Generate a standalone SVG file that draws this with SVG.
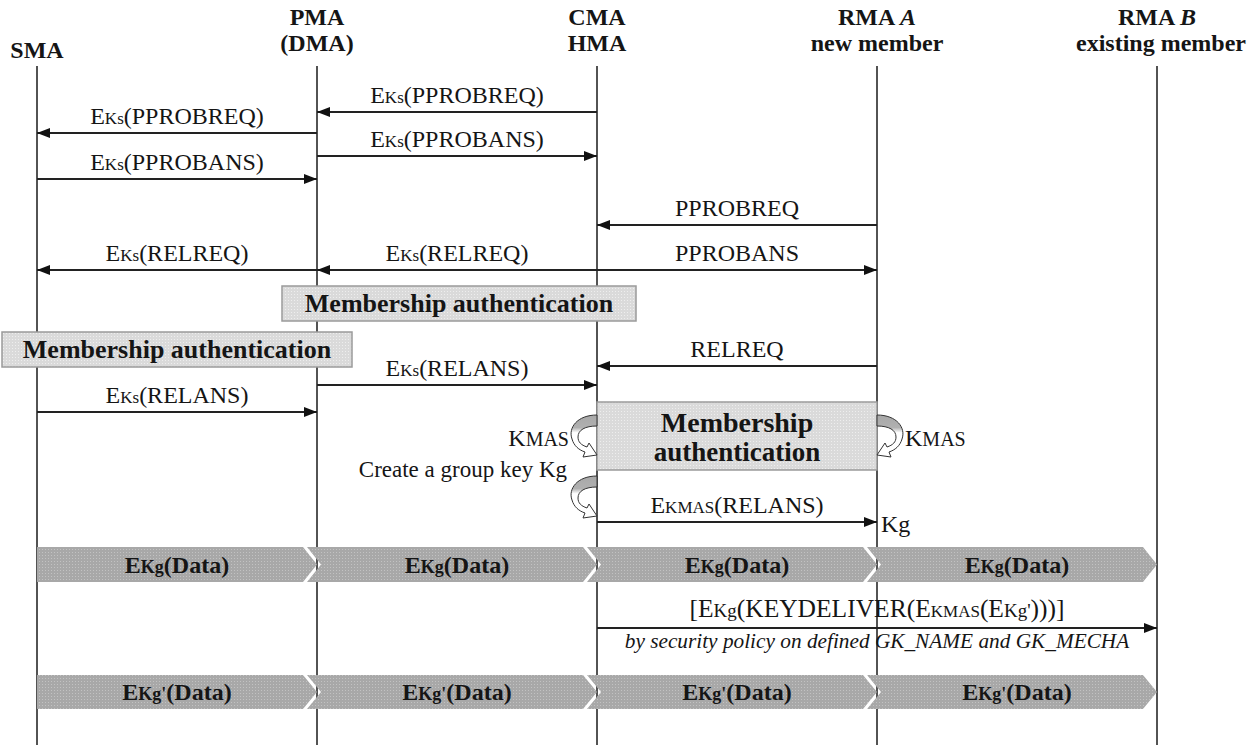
<svg xmlns="http://www.w3.org/2000/svg" width="1252" height="745" viewBox="0 0 1252 745">
<style>
text{font-family:"Liberation Serif","Times New Roman",serif;fill:#151515}
.hdr{font-size:24px;font-weight:bold;text-anchor:middle}
.msg{font-size:24px;text-anchor:middle}
.sub{font-size:17px}
.ma{font-size:26px;font-weight:bold;text-anchor:middle}
.dat{font-size:24px;font-weight:bold;text-anchor:middle}
.dsub{font-size:18px}
.life{stroke:#1a1a1a;stroke-width:1.5;fill:none}
.arr{stroke:#222;stroke-width:1.8;fill:none;marker-end:url(#ah)}
.box{fill:url(#pbox);stroke:#9a9a9a;stroke-width:1.5}
.bar{fill:url(#pbar);stroke:none}
.curl{fill:url(#gcurl);stroke:#333;stroke-width:1}
</style>
<defs>
<marker id="ah" viewBox="0 0 13 10" refX="13" refY="5" markerWidth="13" markerHeight="10" markerUnits="userSpaceOnUse" orient="auto"><path d="M0,0 L13,5 L0,10 Z" fill="#111"/></marker>
<pattern id="pbar" width="3" height="3" patternUnits="userSpaceOnUse"><rect width="3" height="3" fill="#a8a8a8"/><rect width="1" height="1" fill="#c2c2c2"/></pattern>
<pattern id="pbox" width="3" height="3" patternUnits="userSpaceOnUse"><rect width="3" height="3" fill="#dadada"/><rect width="1" height="1" fill="#eeeeee"/></pattern>
<linearGradient id="gcurl" x1="0" y1="0" x2="0" y2="1"><stop offset="0" stop-color="#a8a8a8"/><stop offset="0.3" stop-color="#b0b0b0"/><stop offset="0.42" stop-color="#ffffff"/><stop offset="1" stop-color="#ffffff"/></linearGradient>
<path id="curlp" class="curl" d="M0,0 C-20,0 -29,13 -25,24 C-23,31 -18,35 -12,37 L-14,42 L0,40 L-8,28 L-10,32 C-16,30 -19,27 -19,22 C-19,15 -12,11 0,11 Z"/>
</defs>

<g id="lifelines">
<line class="life" x1="37" y1="66" x2="37" y2="745"/>
<line class="life" x1="317" y1="66" x2="317" y2="745"/>
<line class="life" x1="597" y1="66" x2="597" y2="745"/>
<line class="life" x1="877" y1="66" x2="877" y2="745"/>
<line class="life" x1="1157" y1="66" x2="1157" y2="745"/>
</g>

<g id="headers">
<g id="sma"><text class="hdr" x="37" y="58">SMA</text></g>
<g id="pma"><text class="hdr" x="317" y="25">PMA</text><text class="hdr" x="317" y="51">(DMA)</text></g>
<g id="cma"><text class="hdr" x="597" y="25">CMA</text><text class="hdr" x="597" y="51">HMA</text></g>
<g id="rmaa"><text class="hdr" x="877" y="25">RMA <tspan font-style="italic">A</tspan></text><text class="hdr" x="877" y="51">new member</text></g>
<g id="rmab"><text class="hdr" x="1157" y="25">RMA <tspan font-style="italic">B</tspan></text><text class="hdr" x="1161" y="51">existing member</text></g>
</g>

<g id="connectors">
<line class="arr" x1="597" y1="112" x2="317" y2="112"/>
<line class="arr" x1="317" y1="133" x2="37" y2="133"/>
<line class="arr" x1="317" y1="156" x2="597" y2="156"/>
<line class="arr" x1="37" y1="179" x2="317" y2="179"/>
<line class="arr" x1="877" y1="225" x2="597" y2="225"/>
<line class="arr" x1="317" y1="270" x2="37" y2="270"/>
<line class="arr" x1="597" y1="270" x2="317" y2="270"/>
<line class="arr" x1="597" y1="270" x2="877" y2="270"/>
<line class="arr" x1="877" y1="366" x2="597" y2="366"/>
<line class="arr" x1="317" y1="385" x2="597" y2="385"/>
<line class="arr" x1="37" y1="412" x2="317" y2="412"/>
<line class="arr" x1="597" y1="522" x2="877" y2="522"/>
<line class="arr" x1="597" y1="628" x2="1157" y2="628"/>
</g>

<g id="labels">
<text class="msg" x="457" y="103">E<tspan class="sub">Ks</tspan>(PPROBREQ)</text>
<text class="msg" x="177" y="124">E<tspan class="sub">Ks</tspan>(PPROBREQ)</text>
<text class="msg" x="457" y="147">E<tspan class="sub">Ks</tspan>(PPROBANS)</text>
<text class="msg" x="177" y="170">E<tspan class="sub">Ks</tspan>(PPROBANS)</text>
<text class="msg" x="737" y="216">PPROBREQ</text>
<text class="msg" x="177" y="261">E<tspan class="sub">Ks</tspan>(RELREQ)</text>
<text class="msg" x="457" y="261">E<tspan class="sub">Ks</tspan>(RELREQ)</text>
<text class="msg" x="737" y="261">PPROBANS</text>
<text class="msg" x="737" y="357">RELREQ</text>
<text class="msg" x="457" y="376">E<tspan class="sub">Ks</tspan>(RELANS)</text>
<text class="msg" x="177" y="403">E<tspan class="sub">Ks</tspan>(RELANS)</text>
<text class="msg" x="737" y="513">E<tspan class="sub">KMAS</tspan>(RELANS)</text>
<text class="msg" x="881" y="532" style="text-anchor:start">Kg</text>
<text class="msg" x="877" y="617" style="font-size:25.5px">[E<tspan style="font-size:19px">Kg</tspan>(KEYDELIVER(E<tspan style="font-size:17px">KMAS</tspan>(E<tspan style="font-size:19px">Kg'</tspan>)))]</text>
<text class="msg" x="877" y="648" style="font-size:21.3px;font-style:italic">by security policy on defined GK_NAME and GK_MECHA</text>
</g>

<g id="auth1"><rect class="box" x="282" y="286" width="354" height="35"/><text class="ma" x="459" y="312">Membership authentication</text></g>
<g id="auth2"><rect class="box" x="2" y="332" width="350" height="35"/><text class="ma" x="177" y="358">Membership authentication</text></g>
<g id="auth3"><rect class="box" x="597" y="402" width="280" height="68"/><text class="ma" x="737" y="432" style="font-size:28px">Membership</text><text class="ma" x="737" y="461" style="font-size:27px">authentication</text></g>

<g id="kmas-cma"><use href="#curlp" transform="translate(597,415)"/><text class="msg" x="569" y="446" style="text-anchor:end">K<tspan style="font-size:20px">MAS</tspan></text></g>
<g id="kmas-rma"><use href="#curlp" transform="translate(877,415) scale(-1,1)"/><text class="msg" x="905" y="446" style="text-anchor:start">K<tspan style="font-size:20px">MAS</tspan></text></g>
<g id="create-kg"><use href="#curlp" transform="translate(597,476)"/><text class="msg" x="567" y="477" style="text-anchor:end;font-size:23px">Create a group key Kg</text></g>

<g id="data1">
<path class="bar" d="M37,547 L303,547 L317,564.5 L303,582 L37,582 Z"/>
<path class="bar" d="M307,547 L583,547 L597,564.5 L583,582 L307,582 L321,564.5 Z"/>
<path class="bar" d="M587,547 L863,547 L877,564.5 L863,582 L587,582 L601,564.5 Z"/>
<path class="bar" d="M867,547 L1143,547 L1157,564.5 L1143,582 L867,582 L881,564.5 Z"/>
<text class="dat" x="177" y="573">E<tspan class="dsub">Kg</tspan>(Data)</text>
<text class="dat" x="457" y="573">E<tspan class="dsub">Kg</tspan>(Data)</text>
<text class="dat" x="737" y="573">E<tspan class="dsub">Kg</tspan>(Data)</text>
<text class="dat" x="1017" y="573">E<tspan class="dsub">Kg</tspan>(Data)</text>
</g>

<g id="data2">
<path class="bar" d="M37,675 L303,675 L317,692 L303,709 L37,709 Z"/>
<path class="bar" d="M307,675 L583,675 L597,692 L583,709 L307,709 L321,692 Z"/>
<path class="bar" d="M587,675 L863,675 L877,692 L863,709 L587,709 L601,692 Z"/>
<path class="bar" d="M867,675 L1143,675 L1157,692 L1143,709 L867,709 L881,692 Z"/>
<text class="dat" x="177" y="700">E<tspan class="dsub">Kg'</tspan>(Data)</text>
<text class="dat" x="457" y="700">E<tspan class="dsub">Kg'</tspan>(Data)</text>
<text class="dat" x="737" y="700">E<tspan class="dsub">Kg'</tspan>(Data)</text>
<text class="dat" x="1017" y="700">E<tspan class="dsub">Kg'</tspan>(Data)</text>
</g>
</svg>
